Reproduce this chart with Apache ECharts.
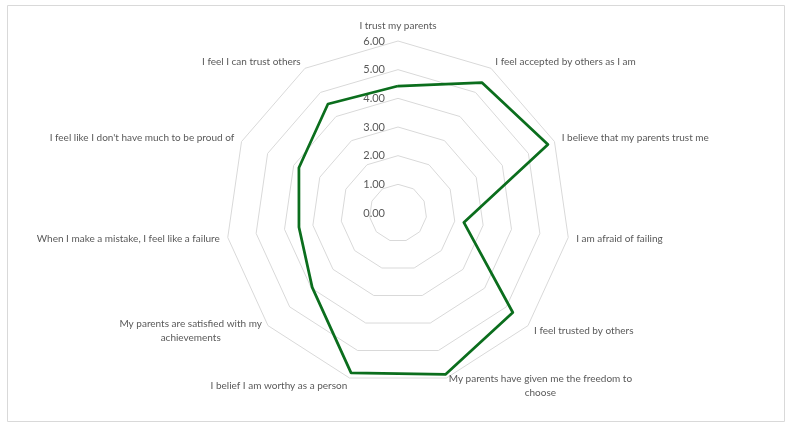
<!DOCTYPE html>
<html>
<head>
<meta charset="utf-8">
<script src="https://cdn.jsdelivr.net/npm/echarts@6/dist/echarts.min.js"></script>
<style>
  html, body { margin: 0; padding: 0; background: #fff; }
  #main { width: 792px; height: 428px; }
</style>
</head>
<body>
<div id="main"></div>
<script>
// 各项目（顺时针，从顶部开始）
var items = [
  'I trust my parents',
  'I feel accepted by others as I am',
  'I believe that my parents trust me',
  'I am afraid of failing',
  'I feel trusted by others',
  'My parents have given me the freedom to\nchoose',
  'I belief I am worthy as a person',
  'My parents are satisfied with my\nachievements',
  'When I make a mistake, I feel like a failure',
  "I feel like I don't have much to be proud of",
  'I feel I can trust others'
]
// 平均分
var scores = [4.43, 5.41, 5.75, 2.32, 5.30, 5.87, 5.81, 3.96, 3.49, 3.80, 4.52]
// 刻度
var scaleMin = 0
var scaleMax = 6

var FONT = 'Lato, Roboto, sans-serif'

var chart = echarts.init(document.getElementById('main'))

// echarts 雷达图是逆时针排列的，这里把顺序倒过来（第一项保持在顶部）
var order = [0]
for (var k = items.length - 1; k > 0; k--) order.push(k)

var indicator = order.map(function (idx, i) {
  return {
    name: items[idx],
    min: scaleMin,
    max: scaleMax,
    // 只在第一条轴上显示刻度文字
    axisLabel: { show: i === 0 }
  }
})
var values = order.map(function (idx) { return scores[idx] })

chart.setOption({
  textStyle: { fontFamily: FONT },
  graphic: [{
    type: 'rect',
    shape: { x: 7.5, y: 5.5, width: 777, height: 416 },
    style: { fill: 'none', stroke: '#d9d9d9', lineWidth: 1 },
    silent: true
  }],
  radar: {
    center: [398, 213],
    radius: 172,
    startAngle: 90,
    shape: 'polygon',
    splitNumber: 6,
    indicator: indicator,
    nameGap: 8,
    axisName: {
      color: '#595959',
      fontSize: 10,
      fontFamily: FONT,
      formatter: function (v) {
        return v.split('\n').map(function (s) { return '{c|' + s + '}' }).join('\n')
      },
      rich: {
        c: { align: 'center', color: '#595959', fontSize: 10, lineHeight: 14, fontFamily: FONT }
      }
    },
    axisLine: { show: false },
    axisTick: { show: false },
    axisLabel: {
      show: false,
      color: '#595959',
      fontSize: 11,
      fontFamily: FONT,
      margin: 13,
      formatter: function (v) { return v.toFixed(2) }
    },
    splitLine: { lineStyle: { color: '#d9d9d9', width: 1 } },
    splitArea: { show: false }
  },
  series: [{
    type: 'radar',
    symbol: 'none',
    lineStyle: { color: '#0b6e1d', width: 2.75 },
    itemStyle: { color: '#0b6e1d' },
    data: [{ value: values, name: 'Score' }]
  }]
})
</script>
</body>
</html>
